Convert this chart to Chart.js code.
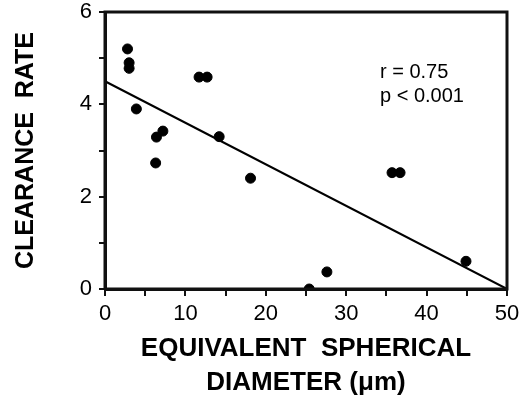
<!DOCTYPE html>
<html>
<head>
<meta charset="utf-8">
<script src="https://cdn.jsdelivr.net/npm/chart.js@4/dist/chart.umd.min.js"></script>
<style>
  html, body { margin: 0; padding: 0; background: #fff; }
  #wrap { width: 525px; height: 416px; }
</style>
</head>
<body>
<div id="wrap"><canvas id="chart" width="525" height="416"></canvas></div>
<script>
// diameter (um) vs clearance rate
var diameter = [2.8, 3.0, 3.0, 3.9, 6.3, 6.4, 7.2, 11.7, 12.7, 14.2, 18.1, 25.4, 27.6, 35.7, 36.7, 44.9];
var clearance = [5.2, 4.9, 4.78, 3.9, 2.73, 3.29, 3.42, 4.59, 4.59, 3.3, 2.4, 0.0, 0.37, 2.52, 2.52, 0.6];

// regression line end points
var fitX = [0, 50];
var fitY = [4.5, 0];

var yTicks = [0, 2, 4, 6];
var xTicks = [0, 10, 20, 30, 40, 50];
var yTitle = 'CLEARANCE  RATE';
var xTitle = ['EQUIVALENT  SPHERICAL', 'DIAMETER (\u03bcm)'];
var statsText = ['r = 0.75', 'p < 0.001'];
var statsAt = { x: 34.2, y: [4.7, 4.16] };

var font = "'Liberation Sans', Arial, Helvetica, sans-serif";
var ink = '#111';

var points = [];
for (var i = 0; i < diameter.length; i++) {
    points.push({ x: diameter[i], y: clearance[i] });
}
var fit = [];
for (var j = 0; j < fitX.length; j++) {
    fit.push({ x: fitX[j], y: fitY[j] });
}

var textPlugin = {
    id: 'texts',
    afterDraw: function (chart) {
        var ctx = chart.ctx;
        var a = chart.chartArea;
        var sx = chart.scales.x, sy = chart.scales.y;
        ctx.save();
        // box: left, top, right and bottom edges
        ctx.strokeStyle = ink;
        ctx.lineWidth = 3;
        ctx.beginPath();
        ctx.moveTo(a.left, a.bottom);
        ctx.lineTo(a.left, a.top);
        ctx.lineTo(a.right, a.top);
        ctx.lineTo(a.right, a.bottom);
        ctx.lineTo(a.left, a.bottom);
        ctx.stroke();

        ctx.fillStyle = '#000';
        ctx.textAlign = 'left';
        ctx.textBaseline = 'middle';
        ctx.font = '20px ' + font;
        var tx = sx.getPixelForValue(statsAt.x);
        for (var k = 0; k < statsText.length; k++) {
            ctx.fillText(statsText[k], tx, sy.getPixelForValue(statsAt.y[k]));
        }

        ctx.textAlign = 'center';
        ctx.font = 'bold 26px ' + font;
        var cx = (a.left + a.right) / 2;
        ctx.fillText(xTitle[0], cx, a.bottom + 60);
        ctx.fillText(xTitle[1], cx, a.bottom + 94);

        ctx.font = 'bold 25px ' + font;
        ctx.translate(26, (a.top + a.bottom) / 2);
        ctx.rotate(-Math.PI / 2);
        ctx.fillText(yTitle, 0, 0);
        ctx.restore();
    }
};

new Chart(document.getElementById('chart'), {
    type: 'scatter',
    data: {
        datasets: [
            {
                type: 'line',
                data: fit,
                borderColor: '#000',
                borderWidth: 2,
                pointRadius: 0,
                fill: false
            },
            {
                data: points,
                backgroundColor: '#000',
                borderColor: '#000',
                pointRadius: 5,
                pointHoverRadius: 5
            }
        ]
    },
    options: {
        responsive: false,
        animation: false,
        events: [],
        layout: { padding: { top: 12, right: 18, left: 0, bottom: 0 } },
        plugins: {
            legend: { display: false },
            tooltip: { enabled: false }
        },
        scales: {
            x: {
                type: 'linear',
                min: 0,
                max: 50,
                afterFit: function (s) { s.height = 127; s.paddingLeft = 0; s.paddingRight = 0; },
                border: { color: ink, width: 3 },
                grid: { drawOnChartArea: false, tickLength: 7, color: ink, lineWidth: 2 },
                ticks: {
                    stepSize: 5,
                    autoSkip: false,
                    maxRotation: 0,
                    padding: 5,
                    color: '#000',
                    font: { family: font, size: 22 },
                    callback: function (v) { return xTicks.indexOf(v) >= 0 ? String(v) : ''; }
                }
            },
            y: {
                type: 'linear',
                min: 0,
                max: 6,
                afterFit: function (s) { s.width = 105; s.paddingTop = 0; s.paddingBottom = 0; },
                border: { color: ink, width: 3 },
                grid: { drawOnChartArea: false, tickLength: 6, color: ink, lineWidth: 2 },
                ticks: {
                    stepSize: 1,
                    autoSkip: false,
                    padding: 7,
                    color: '#000',
                    font: { family: font, size: 22 },
                    callback: function (v) { return yTicks.indexOf(v) >= 0 ? String(v) : ''; }
                }
            }
        }
    },
    plugins: [textPlugin]
});
</script>
</body>
</html>
